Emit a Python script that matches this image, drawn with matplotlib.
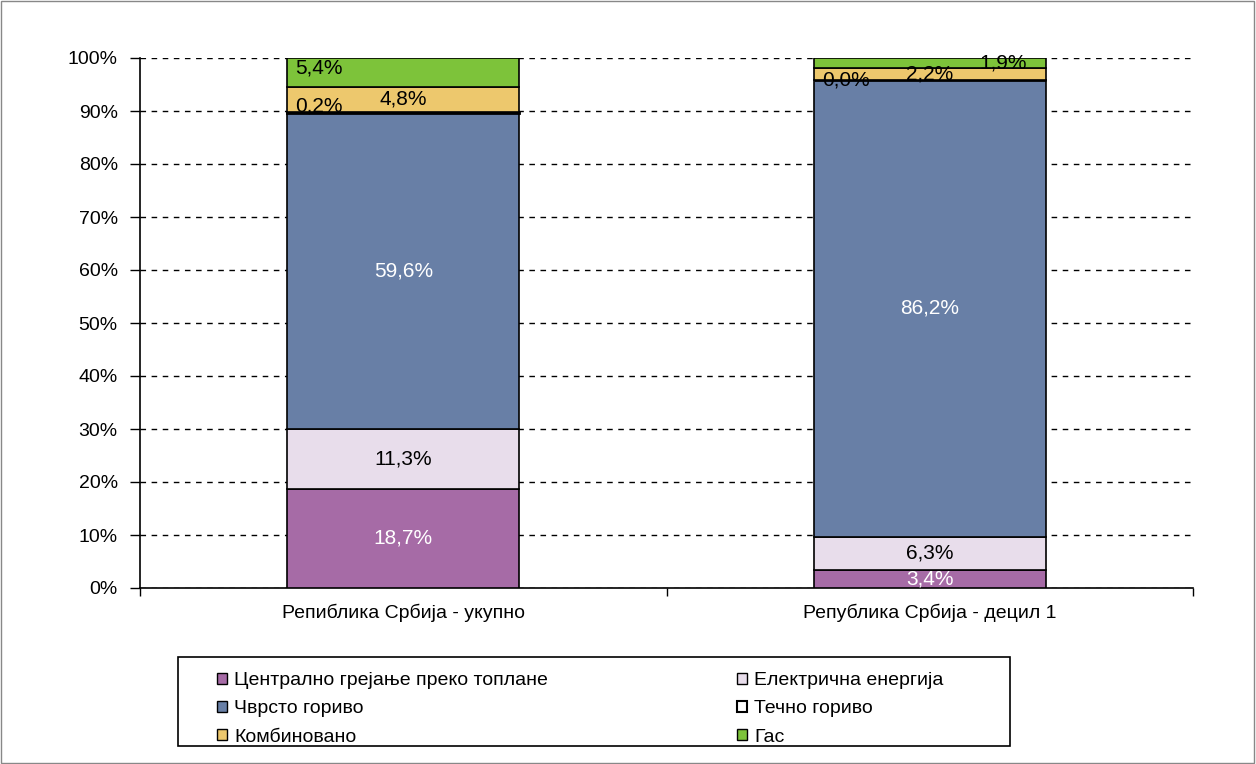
import matplotlib.pyplot as plt
from matplotlib.patches import Patch, Rectangle
from matplotlib.ticker import FixedLocator, MultipleLocator, PercentFormatter

plt.rcParams['font.family'] = ['Liberation Sans', 'DejaVu Sans']

# Категорије и вредности (у %)
categories = ['Репиблика Србија - укупно', 'Република Србија - децил 1']
series_names = ['Централно грејање преко топлане', 'Електрична енергија', 'Чврсто гориво',
                'Течно гориво', 'Комбиновано', 'Гас']
central = [18.7, 3.4]
electric = [11.3, 6.3]
solid = [59.6, 86.2]
liquid = [0.2, 0.0]
combined = [4.8, 2.2]
gas = [5.4, 1.9]
series_values = [central, electric, solid, liquid, combined, gas]

colors = ['#A66BA6', '#E8DDEB', '#687FA6', '#FFFFFF', '#EDC86D', '#7DC33A']
label_colors = ['white', 'black', 'white', 'black', 'black', 'black']
# помак натписа (као у оригиналу)
label_dx = [[0, 0], [0, 0], [0, 0], [-0.16, -0.16], [0, 0], [-0.16, 0.14]]
label_dy = [[0, 0], [0, 0], [0, 0], [1.2, 0], [0, 0], [0.8, 0]]

fig = plt.figure(figsize=(12.56, 7.64), dpi=100)
ax = fig.add_axes([140 / 1256, 1 - 588 / 764, 1053 / 1256, 530 / 764])

x = list(range(len(categories)))
bottoms = [0.0] * len(categories)
for k, vals in enumerate(series_values):
    ax.bar(x, vals, width=0.44, bottom=bottoms, color=colors[k], edgecolor='black',
           linewidth=1.2 if k != 3 else 2.0, zorder=3)
    for i in x:
        y = bottoms[i] + vals[i] / 2 + label_dy[k][i]
        ax.text(i + label_dx[k][i], y, f"{vals[i]:.1f}%".replace('.', ','),
                ha='center', va='center', fontsize=15, color=label_colors[k], zorder=4)
    bottoms = [b + v for b, v in zip(bottoms, vals)]

# Осе
ax.set_xlim(-0.5, 1.5)
ax.set_ylim(0, 100)
ax.yaxis.set_major_locator(MultipleLocator(10))
ax.yaxis.set_major_formatter(PercentFormatter(decimals=0))
ax.yaxis.grid(True, color='black', linestyle=(0, (4, 4)), linewidth=1, zorder=0)
ax.set_xticks(x)
ax.set_xticklabels(categories)
ax.xaxis.set_minor_locator(FixedLocator([-0.5, 0.5, 1.5]))
ax.tick_params(axis='x', which='major', length=0, pad=11, labelsize=14)
ax.tick_params(axis='x', which='minor', length=6, width=1, direction='out')
ax.tick_params(axis='y', length=7, width=1, labelsize=14, pad=9)
ax.spines['top'].set_visible(False)
ax.spines['right'].set_visible(False)
ax.spines['left'].set_linewidth(1.2)
ax.spines['bottom'].set_linewidth(1.2)

# Легенда у две колоне, са оквиром
handles = [Patch(facecolor=colors[k], edgecolor='black', linewidth=1.5 if k == 3 else 1)
           for k in range(len(series_names))]
order_left = [0, 2, 4]
order_right = [1, 3, 5]
for order, x0 in [(order_left, 217 / 1256), (order_right, 737 / 1256)]:
    fig.legend([handles[k] for k in order], [series_names[k] for k in order],
               loc='upper left', bbox_to_anchor=(x0, 1 - 672 / 764), frameon=False,
               fontsize=14, handlelength=0.5, handleheight=0.5, handletextpad=0.4,
               labelspacing=0.58, borderpad=0, borderaxespad=0)
fig.patches.append(Rectangle((178 / 1256, 1 - 746 / 764), 832 / 1256, 89 / 764,
                             transform=fig.transFigure, fill=False, edgecolor='black',
                             linewidth=1.2))

# Оквир слике
fig.patches.append(Rectangle((0.0005, 0.0008), 0.998, 0.998, transform=fig.transFigure,
                             fill=False, edgecolor='#888888', linewidth=1))

fig.savefig('out.png', dpi=100)
